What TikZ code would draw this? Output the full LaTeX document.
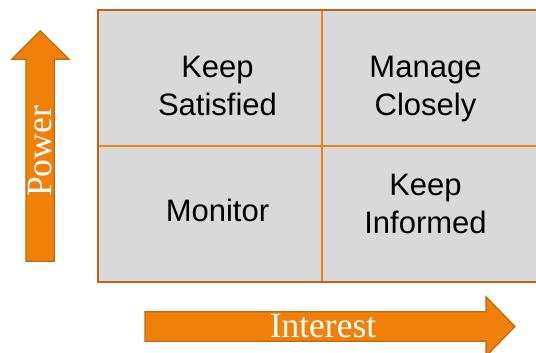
\documentclass[tikz,border=0pt]{standalone}
\usepackage{fontspec}
\setmainfont{Liberation Serif}
\setsansfont{Liberation Sans}
\usepackage{xcolor}

\definecolor{quadgray}{HTML}{D9D9D9}
\definecolor{axisorange}{HTML}{F0800A}
\definecolor{axisedge}{HTML}{C0690F}
\definecolor{frameorange}{HTML}{C4620F}
\definecolor{splitorange}{HTML}{F08010}

\begin{document}
\begin{tikzpicture}[x=1pt, y=1pt,
    quad/.style={font=\sffamily\fontsize{31}{38}\selectfont, align=center, inner sep=0pt},
    axis/.style={fill=axisorange, draw=axisedge, line width=1.2pt, line join=miter},
    axislabel/.style={font=\fontsize{35.5}{40}\selectfont, text=white, inner sep=0pt}
]
\useasboundingbox (0,0) rectangle (536,353);
\clip (0,0) rectangle (536,353);

% Quadrant grid
\fill[quadgray] (98,71) rectangle (546,343);
\draw[splitorange, line width=1.6pt] (322,71) -- (322,343);
\draw[splitorange, line width=1.6pt] (98,207) -- (546,207);
\draw[frameorange, line width=1.8pt] (98,71) rectangle (546,343);

% Quadrant labels
\node[quad] (satisfied) at (217.5,263.8) {Keep\strut\\Satisfied\strut};
\node[quad] (closely) at (425.5,263.8) {Manage\strut\\Closely\strut};
\node[quad] (monitor) at (217.5,138.9) {Monitor\strut};
\node[quad] (informed) at (425.5,145.6) {Keep\strut\\Informed\strut};

% Power axis (vertical)
\draw[axis] (26,91.7) -- (26,293.7) -- (11.7,293.7) -- (40.3,322.3)
    -- (69,293.7) -- (54.3,293.7) -- (54.3,91.7) -- cycle;
\node[axislabel, rotate=90, anchor=base] (power) at (51.7,201.6) {Power};

% Interest axis (horizontal)
\draw[axis] (145,41.3) -- (486,41.3) -- (486,56.3) -- (515,26.5)
    -- (486,-3.3) -- (486,11.7) -- (145,11.7) -- cycle;
\node[axislabel, anchor=base] (interest) at (323,15) {Interest};

\end{tikzpicture}
\end{document}
